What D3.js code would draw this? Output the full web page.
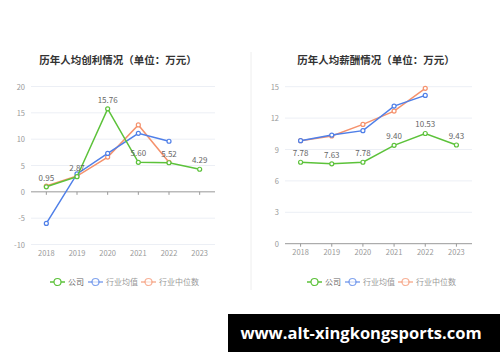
<!DOCTYPE html>
<html>
<meta charset="utf-8">
<title>历年人均创利/薪酬情况</title>
<style>
body { margin: 0; background: #fff; }
text { font-family: "Noto Sans CJK SC", "Noto Sans", sans-serif; }
</style>
<body>
<svg id="chart" width="500" height="362"></svg>
<script src="https://d3js.org/d3.v7.min.js"></script>
<script>
var years = ["2018", "2019", "2020", "2021", "2022", "2023"];
var seriesNames = ["公司", "行业均值", "行业中位数"];
var colors = ["#5cc23a", "#4f7fe8", "#f5926d"];

// 人均创利
var profitCompany = [0.95, 2.87, 15.76, 5.60, 5.52, 4.29];
var profitMean = [-6.0, 3.4, 7.3, 11.1, 9.6, null];
var profitMedian = [1.1, 3.0, 6.6, 12.7, 5.6, null];
var profitTicks = [-10, -5, 0, 5, 10, 15, 20];

// 人均薪酬
var salaryCompany = [7.78, 7.63, 7.78, 9.40, 10.53, 9.43];
var salaryMean = [9.84, 10.38, 10.8, 13.15, 14.17, null];
var salaryMedian = [9.84, 10.29, 11.4, 12.67, 14.84, null];
var salaryTicks = [0, 3, 6, 9, 12, 15];

var svg = d3.select("#chart");

// divider
svg.append("line")
  .attr("x1", 251).attr("x2", 251)
  .attr("y1", 52).attr("y2", 290)
  .attr("stroke", "#eeeeee");

function drawChart(opt) {
  var g = svg.append("g");
  var x = d3.scaleBand().domain(years).range([opt.x0, opt.x1]);
  var y = d3.scaleLinear().domain(opt.domain).range([opt.y1, opt.y0]);

  g.append("text")
    .attr("x", opt.titleX).attr("y", 64)
    .attr("text-anchor", "middle")
    .attr("font-size", 10.5).attr("font-weight", "bold")
    .attr("fill", "#333")
    .text(opt.title);

  // grid
  g.selectAll(".grid").data(opt.ticks.filter(function(t) { return t != 0; }))
    .enter().append("line")
    .attr("x1", opt.x0).attr("x2", opt.x1)
    .attr("y1", function(d) { return y(d); }).attr("y2", function(d) { return y(d); })
    .attr("stroke", "#eceff5");

  g.selectAll(".ylab").data(opt.ticks)
    .enter().append("text")
    .attr("x", opt.x0 - 6)
    .attr("y", function(d) { return y(d) + 3; })
    .attr("text-anchor", "end")
    .attr("font-size", 7.5).attr("fill", "#999")
    .text(function(d) { return d; });

  // x axis at zero
  var xa = g.append("g").attr("transform", "translate(0," + y(0) + ")");
  xa.append("line").attr("x1", opt.x0).attr("x2", opt.x1).attr("stroke", "#999");
  xa.selectAll(".tk").data(years).enter().append("line")
    .attr("x1", function(d) { return x(d) + x.bandwidth() / 2; })
    .attr("x2", function(d) { return x(d) + x.bandwidth() / 2; })
    .attr("y1", 0).attr("y2", 3)
    .attr("stroke", "#999");

  g.selectAll(".xlab").data(years).enter().append("text")
    .attr("x", function(d) { return x(d) + x.bandwidth() / 2; })
    .attr("y", opt.y1 + 11)
    .attr("text-anchor", "middle")
    .attr("font-size", 7.5).attr("fill", "#999")
    .text(function(d) { return d; });

  var line = d3.line()
    .defined(function(d) { return d != null; })
    .x(function(d, i) { return x(years[i]) + x.bandwidth() / 2; })
    .y(function(d) { return y(d); });

  // draw medians, then means, then company on top
  [2, 1, 0].forEach(function(k) {
    var vals = opt.series[k];
    g.append("path").datum(vals)
      .attr("d", line)
      .attr("fill", "none")
      .attr("stroke", colors[k])
      .attr("stroke-width", 1.5);
    g.selectAll(".pt" + k).data(vals.map(function(v, i) { return {v: v, i: i}; })
        .filter(function(d) { return d.v != null; }))
      .enter().append("circle")
      .attr("cx", function(d) { return x(years[d.i]) + x.bandwidth() / 2; })
      .attr("cy", function(d) { return y(d.v); })
      .attr("r", 2)
      .attr("fill", "#fff")
      .attr("stroke", colors[k])
      .attr("stroke-width", 1.2);
  });

  g.selectAll(".lab").data(opt.series[0]).enter().append("text")
    .attr("x", function(d, i) { return x(years[i]) + x.bandwidth() / 2; })
    .attr("y", function(d) { return y(d) - 6; })
    .attr("text-anchor", "middle")
    .attr("font-size", 8).attr("fill", "#666")
    .text(function(d) { return d.toFixed(2); });

  // legend
  var lx = opt.legendX;
  var offs = [0, 38, 91];
  seriesNames.forEach(function(name, k) {
    var lg = g.append("g").attr("transform", "translate(" + (lx + offs[k]) + ",282)");
    lg.append("line").attr("x1", 0).attr("x2", 15)
      .attr("stroke", colors[k]).attr("stroke-width", 1.5)
      .attr("opacity", k == 0 ? 1 : 0.7);
    lg.append("circle").attr("cx", 7.5).attr("cy", 0).attr("r", 3.5)
      .attr("fill", "#fff").attr("stroke", colors[k]).attr("stroke-width", 1.2)
      .attr("opacity", k == 0 ? 1 : 0.7);
    lg.append("text").attr("x", 18).attr("y", 3)
      .attr("font-size", 8).attr("fill", k == 0 ? "#666" : "#999")
      .text(name);
  });
}

drawChart({
  title: "历年人均创利情况（单位：万元）", titleX: 118,
  x0: 31, x1: 215, y0: 86.5, y1: 244.5, domain: [-10, 20],
  ticks: profitTicks, series: [profitCompany, profitMean, profitMedian],
  legendX: 50
});

drawChart({
  title: "历年人均薪酬情况（单位：万元）", titleX: 376,
  x0: 285, x1: 472, y0: 86.7, y1: 243.7, domain: [0, 15],
  ticks: salaryTicks, series: [salaryCompany, salaryMean, salaryMedian],
  legendX: 307
});

// watermark
svg.append("rect").attr("x", 228).attr("y", 314).attr("width", 272).attr("height", 38).attr("fill", "#000");
svg.append("text").attr("x", 361).attr("y", 339)
  .attr("text-anchor", "middle")
  .attr("font-size", 16.5).attr("font-weight", "bold")
  .attr("fill", "#fff")
  .style("font-family", "'Open Sans', 'DejaVu Sans', sans-serif")
  .text("www.alt-xingkongsports.com");
</script>
</body>
</html>
